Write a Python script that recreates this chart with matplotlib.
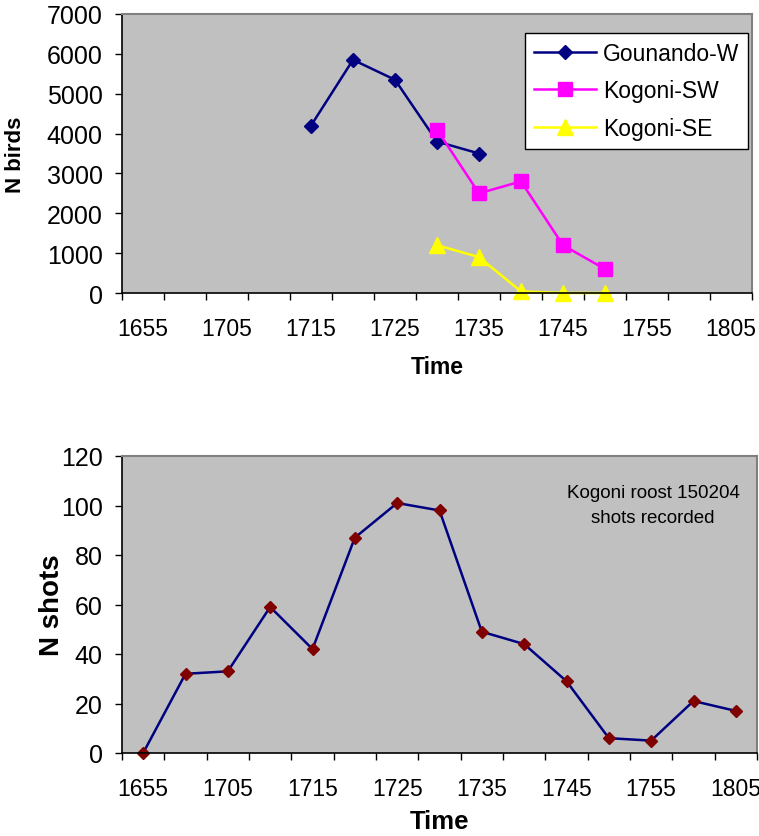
#Kogoni / Gounando roost counts and shots recorded

import numpy as np
import matplotlib.pyplot as plt

plt.rcParams['font.family'] = ['Liberation Sans', 'DejaVu Sans']

#time categories (hhmm)
times = ['1655', '1700', '1705', '1710', '1715', '1720', '1725', '1730',
         '1735', '1740', '1745', '1750', '1755', '1800', '1805']

#N birds per roost, None = not counted
gounando_w = [None, None, None, None, 4200, 5850, 5350, 3800, 3500,
              None, None, None, None, None, None]
kogoni_sw = [None, None, None, None, None, None, None, 4100, 2500,
             2800, 1200, 600, None, None, None]
kogoni_se = [None, None, None, None, None, None, None, 1200, 900,
             40, 0, 0, None, None, None]

#N shots, Kogoni roost 150204
shots = [0, 32, 33, 59, 42, 87, 101, 98, 49, 44, 29, 6, 5, 21, 17]


def vals(lst):
    return np.array([np.nan if v is None else v for v in lst], dtype=float)


def style_axes(ax, ytop, ystep, ytick_size):
    ax.set_facecolor('#C0C0C0')
    n = len(times)
    x = np.arange(n)
    ax.set_xlim(-0.5, n - 0.5)
    ax.set_ylim(0, ytop)
    ax.set_yticks(np.arange(0, ytop + 1, ystep))
    # labels every other category, tick marks between categories
    ax.set_xticks(x[::2])
    ax.set_xticklabels(times[::2])
    ax.set_xticks(np.arange(-0.5, n, 1), minor=True)
    ax.tick_params(axis='x', which='major', length=0, pad=17, labelsize=16.5)
    ax.tick_params(axis='x', which='minor', length=5, width=1, direction='out')
    ax.tick_params(axis='y', length=5, width=1, direction='out', pad=9,
                   labelsize=ytick_size)
    for s in ['top', 'right']:
        ax.spines[s].set_color('#808080')
        ax.spines[s].set_linewidth(1.5)
    for s in ['left', 'bottom']:
        ax.spines[s].set_color('black')
        ax.spines[s].set_linewidth(1.2)


fig = plt.figure(figsize=(7.59, 8.37), dpi=100)

# top chart: N birds
ax1 = fig.add_axes([122/759, 1 - 294/837, 630/759, 279/837])
x = np.arange(len(times))
ax1.plot(x, vals(gounando_w), color='#000080', lw=1.8, marker='D', ms=7.5,
         mfc='#000080', mec='#000080', label='Gounando-W', clip_on=False)
ax1.plot(x, vals(kogoni_sw), color='#FF00FF', lw=1.8, marker='s', ms=10.5,
         mfc='#FF00FF', mec='#FF00FF', label='Kogoni-SW', clip_on=False)
ax1.plot(x, vals(kogoni_se), color='#FFFF00', lw=1.8, marker='^', ms=11,
         mfc='#FFFF00', mec='#FFFF00', label='Kogoni-SE', clip_on=False)
style_axes(ax1, 7000, 1000, 18)
ax1.set_ylabel('N birds', fontsize=16, fontweight='bold', va='center')
ax1.yaxis.set_label_coords((16 - 122)/630, 0.5)
ax1.set_xlabel('Time', fontsize=16.5, fontweight='bold', va='center')
ax1.xaxis.set_label_coords(0.5, (294 - 368)/279)
leg = ax1.legend(loc='upper right', bbox_to_anchor=(0.994, 0.932),
                 fontsize=16.5, fancybox=False, framealpha=1,
                 edgecolor='black', handlelength=2.7, labelspacing=0.62,
                 borderpad=0.4, handletextpad=0.3, borderaxespad=0)
leg.get_frame().set_linewidth(1)

# bottom chart: N shots
ax2 = fig.add_axes([122/759, 1 - 754/837, 635/759, 297/837])
ax2.plot(x, shots, color='#000080', lw=1.8, marker='D', ms=6.5,
         mfc='#800000', mec='#800000', clip_on=False)
style_axes(ax2, 120, 20, 18)
ax2.set_ylabel('N shots', fontsize=20, fontweight='bold', va='center')
ax2.yaxis.set_label_coords((52 - 122)/635, 0.5)
ax2.set_xlabel('Time', fontsize=18.5, fontweight='bold', va='center')
ax2.xaxis.set_label_coords(0.5, (754 - 822)/297)
ax2.text((653 - 122)/635, (754 - 506)/297, 'Kogoni roost 150204\nshots recorded',
         fontsize=13.5, ha='center', va='center', linespacing=1.55,
         transform=ax2.transAxes)

fig.savefig('out.png', dpi=100)
